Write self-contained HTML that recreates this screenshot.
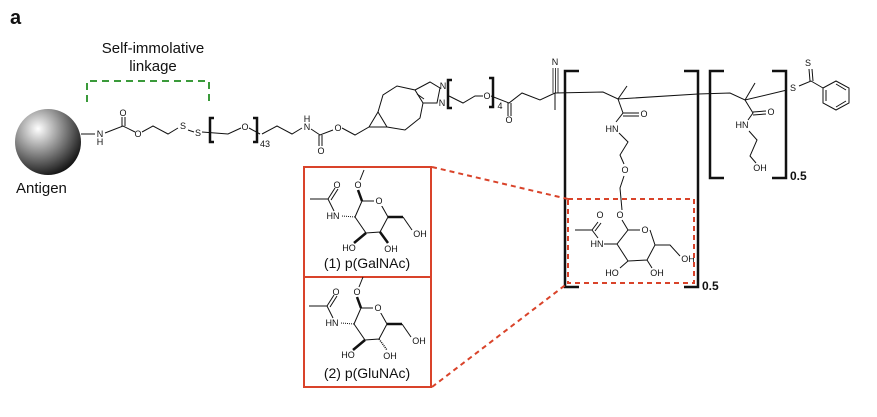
<!DOCTYPE html>
<html><head><meta charset="utf-8"><style>
body{margin:0;background:#fff}
svg{display:block}
text{font-family:"Liberation Sans",Arial,sans-serif;fill:#111}
.a{font-size:9px;text-anchor:middle;dominant-baseline:central}
</style></head><body>
<svg width="877" height="417" viewBox="0 0 877 417" xmlns="http://www.w3.org/2000/svg">
<defs>
<radialGradient id="g" cx="0.35" cy="0.3" r="0.75">
<stop offset="0" stop-color="#fff"/><stop offset="0.5" stop-color="#888"/><stop offset="1" stop-color="#111"/>
</radialGradient>
<g id="sug">
<line x1="328" y1="199" x2="310" y2="199" stroke="#111" stroke-width="1"/>
<line x1="328" y1="199" x2="335" y2="188" stroke="#111" stroke-width="1"/>
<line x1="331" y1="200" x2="338" y2="189" stroke="#111" stroke-width="1"/>
<line x1="328" y1="199" x2="334" y2="211" stroke="#111" stroke-width="1"/>
<polyline points="355,217 362,201 379,201 388,217 380,232 366,233 355,217" fill="none" stroke="#111" stroke-width="1"/>
<line x1="342" y1="216" x2="355" y2="217" stroke="#111" stroke-width="1" stroke-dasharray="1,1"/>
<line x1="362" y1="201" x2="358" y2="190" stroke="#111" stroke-width="2.5"/>
<line x1="360" y1="180" x2="364" y2="170" stroke="#111" stroke-width="1"/>
<line x1="388" y1="217" x2="403" y2="217" stroke="#111" stroke-width="2.5"/>
<line x1="403" y1="217" x2="412" y2="230" stroke="#111" stroke-width="1"/>
<line x1="366" y1="233" x2="354" y2="243" stroke="#111" stroke-width="2.5"/>
<rect x="374" y="196" width="10" height="10" fill="#fff"/>
<text class="a" x="379" y="201">O</text>
<text class="a" x="358" y="185">O</text>
<text class="a" x="337" y="185">O</text>
<text class="a" x="333" y="216">HN</text>
<text class="a" x="420" y="234">OH</text>
<text class="a" x="349" y="248">HO</text>
</g>
</defs>
<text x="10" y="24" font-size="20" font-weight="bold">a</text>
<circle cx="48" cy="142" r="33" fill="url(#g)"/>
<text x="16" y="193" font-size="15">Antigen</text>
<text x="153" y="53" font-size="15" text-anchor="middle">Self-immolative</text>
<text x="153" y="71" font-size="15" text-anchor="middle">linkage</text>
<polyline points="87,102 87,81 209,81 209,102" fill="none" stroke="#3a9a3a" stroke-width="2" stroke-dasharray="7,5"/>
<g fill="none" stroke="#111" stroke-width="1">
<polyline points="81,134 95,134"/>
<polyline points="105,133 123,126 135,132"/>
<line x1="122" y1="126" x2="122" y2="117"/><line x1="125" y1="126" x2="125" y2="117"/>
<polyline points="142,132 153,126 168,134 178,128"/>
<polyline points="188,130 194,132"/>
<polyline points="202,132 228,134 241,128"/>
<polyline points="249,128 260,134"/>
<polyline points="262,134 277,126 292,134 302,128"/>
<polyline points="311,129 320,135 333,130"/>
<line x1="319" y1="135" x2="319" y2="146"/><line x1="322" y1="135" x2="322" y2="146"/>
<polyline points="342,128 355,135 369,127"/>
<polygon points="369,127 378,112 387,127"/>
<polyline points="378,112 383,95 397,86 415,90 423,103 420,118 405,130 387,127"/>
<polyline points="415,90 430,82 440,88 437,103 423,103"/>
<line x1="417" y1="94" x2="424" y2="99"/>
<polyline points="449,96 463,103 475,96 483,96"/>
<polyline points="491,96 509,103 522,93 540,100 555,93"/>
<line x1="508" y1="103" x2="508" y2="116"/><line x1="511" y1="103" x2="511" y2="116"/>
<line x1="553" y1="93" x2="553" y2="68" stroke-width="0.8"/><line x1="555.5" y1="93" x2="555.5" y2="68" stroke-width="0.8"/><line x1="558" y1="93" x2="558" y2="68" stroke-width="0.8"/>
<line x1="555" y1="93" x2="555" y2="110"/>
<polyline points="555,93 603,92 618,99 698,94 730,93 745,100 787,90"/>
<line x1="618" y1="99" x2="627" y2="86"/>
<line x1="745" y1="100" x2="755" y2="83"/>
<polyline points="618,99 623,113 616,122"/>
<line x1="623" y1="113" x2="639" y2="113"/><line x1="623" y1="116" x2="639" y2="116"/>
<polyline points="619,133 628,142 620,155 624,164"/>
<polyline points="624,176 620,188 622,210"/>
<polyline points="745,100 753,113 748,120"/>
<line x1="753" y1="112" x2="766" y2="111"/><line x1="753" y1="115" x2="766" y2="114"/>
<polyline points="749,131 757,140 750,156 756,163"/>
<polyline points="799,86 811,81 823,88"/>
<line x1="810" y1="81" x2="809" y2="69"/><line x1="813" y1="81" x2="812" y2="69"/>
<polygon points="823,88 836,81 849,88 849,103 836,110 823,103"/>
<line x1="836" y1="84" x2="846" y2="90"/><line x1="846" y1="101" x2="836" y2="107"/><line x1="826" y1="90" x2="826" y2="101"/>
<path d="M575,230 L592,230 L598,222 M592,230 L598,238 M604,244 L617,244 L628,230 L640,230 M650,230 L655,245 L647,260 L628,261 L617,244 M628,230 L622,220 M655,245 L670,245 L680,256 M628,261 L620,268 M647,260 L652,268"/>
<line x1="595" y1="231" x2="601" y2="223"/>
</g>
<g font-size="9">
<text class="a" x="100" y="134">N</text><text class="a" x="100" y="142">H</text>
<text class="a" x="123" y="113">O</text>
<text class="a" x="138" y="134">O</text>
<text class="a" x="183" y="126">S</text>
<text class="a" x="198" y="133">S</text>
<text class="a" x="245" y="127">O</text>
<text class="a" x="307" y="119">H</text><text class="a" x="307" y="127">N</text>
<text class="a" x="321" y="151">O</text>
<text class="a" x="338" y="128">O</text>
<text class="a" x="443" y="86">N</text>
<text class="a" x="442" y="103">N</text>
<text class="a" x="487" y="96">O</text>
<text class="a" x="500" y="106" font-size="7">4</text>
<text class="a" x="509" y="120">O</text>
<text class="a" x="555" y="62">N</text>
<text class="a" x="644" y="114">O</text>
<text class="a" x="612" y="129">HN</text>
<text class="a" x="625" y="170">O</text>
<text class="a" x="771" y="112">O</text>
<text class="a" x="742" y="125">HN</text>
<text class="a" x="760" y="168">OH</text>
<text class="a" x="793" y="88">S</text>
<text class="a" x="808" y="63">S</text>
<text class="a" x="265" y="144" font-size="8">43</text>
<text class="a" x="620" y="215">O</text>
<text class="a" x="600" y="215">O</text>
<text class="a" x="645" y="230">O</text>
<text class="a" x="597" y="244">HN</text>
<text class="a" x="612" y="273">HO</text>
<text class="a" x="657" y="273">OH</text>
<text class="a" x="688" y="259">OH</text>
</g>
<g fill="none" stroke="#111" stroke-width="2.5">
<polyline points="214,118 210,118 210,142 214,142"/>
<polyline points="253,118 257,118 257,142 253,142"/>
<polyline points="452,80 448,80 448,108 452,108"/>
<polyline points="489,78 493,78 493,107 489,107"/>
<polyline points="579,71 565,71 565,287 579,287"/>
<polyline points="684,71 698,71 698,287 684,287"/>
<polyline points="724,71 710,71 710,178 724,178"/>
<polyline points="772,71 786,71 786,178 772,178"/>
</g>
<text x="790" y="180" font-size="12" font-weight="bold">0.5</text>
<text x="702" y="290" font-size="12" font-weight="bold">0.5</text>
<rect x="568" y="199" width="126" height="84" fill="none" stroke="#d9432a" stroke-width="2" stroke-dasharray="5,4"/>
<line x1="432" y1="167" x2="568" y2="199" stroke="#d9432a" stroke-width="2" stroke-dasharray="5,4"/>
<line x1="432" y1="387" x2="568" y2="283" stroke="#d9432a" stroke-width="2" stroke-dasharray="5,4"/>
<rect x="304" y="167" width="127" height="110" fill="none" stroke="#d9432a" stroke-width="2"/>
<rect x="304" y="277" width="127" height="110" fill="none" stroke="#d9432a" stroke-width="2"/>
<use href="#sug"/>
<line x1="380" y1="232" x2="388" y2="243" stroke="#111" stroke-width="2.5"/>
<text class="a" x="391" y="249">OH</text>
<use href="#sug" transform="translate(-1,107)"/>
<line x1="379" y1="339" x2="387" y2="350" stroke="#111" stroke-width="1.5" stroke-dasharray="1,1"/>
<text class="a" x="390" y="356">OH</text>
<text x="367" y="268" font-size="14" text-anchor="middle">(1)  p(GalNAc)</text>
<text x="367" y="378" font-size="14" text-anchor="middle">(2)  p(GluNAc)</text>
</svg>
</body></html>
